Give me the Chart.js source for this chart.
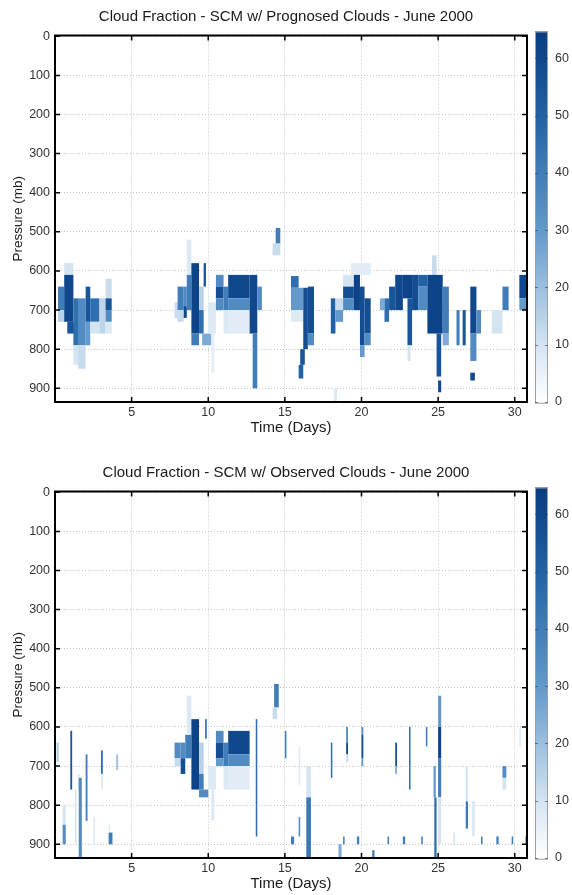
<!DOCTYPE html>
<html>
<head>
<meta charset="utf-8">
<script src="https://cdn.jsdelivr.net/npm/chart.js@4.4.1/dist/chart.umd.min.js"></script>
<style>
  html, body { margin: 0; padding: 0; background: #fff; }
  canvas { display: block; }
</style>
</head>
<body>
<canvas id="progChart" width="572" height="456"></canvas>
<canvas id="obsChart" width="572" height="439"></canvas>
<script>
// tick labels
var timeTicks = [5, 10, 15, 20, 25, 30];
var pressureTicks = [0, 100, 200, 300, 400, 500, 600, 700, 800, 900];
var colorTicks = [0, 10, 20, 30, 40, 50, 60];
var colorMax = 64.7;

// cloud fraction cells: [day from, day to, pressure top, pressure bottom, value]
var prognosedCells = [
  [0.2, 0.6, 640, 700, 40], [0.2, 0.6, 700, 730, 15],
  [0.6, 1.2, 580, 610, 10], [0.6, 1.2, 610, 730, 60], [0.8, 1.4, 730, 760, 55],
  [1.2, 1.5, 670, 790, 45], [1.2, 1.5, 790, 840, 10],
  [1.5, 2.0, 670, 790, 35], [1.5, 2.0, 790, 850, 12],
  [2.0, 2.3, 640, 730, 55], [2.0, 2.3, 730, 790, 30],
  [2.3, 2.9, 670, 730, 45], [2.3, 2.9, 730, 760, 10],
  [2.9, 3.3, 670, 760, 14],
  [3.3, 3.7, 620, 670, 12], [3.3, 3.7, 670, 700, 55], [3.3, 3.7, 700, 730, 35], [3.3, 3.7, 730, 760, 8],
  [7.8, 8.1, 680, 720, 12],
  [8.0, 8.4, 640, 700, 40], [8.0, 8.4, 700, 730, 12],
  [8.4, 8.6, 640, 690, 35], [8.4, 8.6, 690, 720, 60],
  [8.6, 8.9, 520, 610, 8], [8.6, 8.9, 610, 700, 40],
  [8.9, 9.4, 580, 760, 62], [8.9, 9.4, 760, 790, 40],
  [9.4, 9.7, 640, 700, 15], [9.4, 9.7, 700, 760, 45],
  [9.7, 9.85, 580, 640, 55],
  [9.6, 10.2, 760, 790, 25],
  [10.0, 10.5, 680, 760, 8], [10.2, 10.4, 760, 860, 6],
  [10.5, 11.0, 610, 640, 35], [10.5, 11.0, 640, 670, 58], [10.5, 11.0, 670, 700, 35],
  [11.0, 11.3, 640, 700, 40], [11.0, 11.3, 700, 760, 8],
  [11.3, 12.7, 610, 670, 60], [11.3, 12.7, 670, 700, 35], [11.3, 12.7, 700, 760, 7],
  [12.7, 13.2, 610, 760, 60], [12.9, 13.2, 760, 900, 40],
  [13.2, 13.5, 640, 700, 35],
  [14.4, 14.7, 490, 530, 40], [14.2, 14.7, 530, 560, 12],
  [15.4, 15.9, 613, 643, 45], [15.4, 16.2, 643, 700, 30], [15.4, 16.2, 700, 730, 8],
  [16.2, 16.5, 643, 800, 58], [16.0, 16.3, 800, 840, 55], [15.9, 16.2, 840, 875, 50],
  [16.5, 16.9, 640, 760, 58], [16.5, 16.9, 760, 790, 35],
  [18.0, 18.3, 670, 760, 50], [18.2, 18.4, 900, 935, 8],
  [18.3, 18.8, 670, 700, 12], [18.3, 18.8, 700, 730, 30],
  [18.8, 19.5, 610, 640, 10], [18.8, 19.5, 640, 670, 58], [18.8, 19.5, 670, 700, 35],
  [19.3, 20.6, 580, 610, 7],
  [19.5, 19.9, 610, 700, 62],
  [19.9, 20.2, 640, 790, 58], [19.9, 20.2, 790, 820, 30],
  [20.2, 20.6, 670, 760, 58], [20.2, 20.6, 760, 790, 35],
  [21.2, 21.5, 670, 700, 25], [21.5, 21.8, 670, 730, 45],
  [21.8, 22.2, 640, 700, 55], [22.2, 22.7, 610, 700, 60],
  [22.7, 23.3, 610, 670, 62], [23.0, 23.3, 670, 790, 55], [23.0, 23.2, 790, 830, 10],
  [23.3, 23.7, 610, 700, 58],
  [23.7, 24.3, 610, 640, 50], [23.7, 24.3, 640, 700, 35],
  [24.6, 24.9, 560, 610, 12],
  [24.3, 25.3, 610, 760, 62], [24.9, 25.2, 760, 870, 55], [25.0, 25.2, 880, 910, 60],
  [25.3, 25.7, 640, 760, 40], [25.3, 25.7, 760, 790, 25],
  [26.2, 26.4, 700, 790, 40], [26.6, 26.8, 700, 790, 55],
  [27.1, 27.5, 640, 760, 60], [27.1, 27.5, 760, 830, 35], [27.1, 27.4, 860, 880, 60],
  [27.5, 27.8, 700, 760, 35],
  [28.5, 29.2, 700, 760, 10], [29.2, 29.6, 640, 700, 40],
  [30.3, 30.8, 610, 670, 60], [30.3, 30.8, 670, 700, 30]
];

var observedCells = [
  [0.1, 0.25, 640, 690, 15],
  [0.5, 0.7, 800, 850, 10], [0.5, 0.7, 850, 900, 35],
  [1.0, 1.12, 610, 760, 55],
  [1.3, 1.4, 760, 900, 10],
  [1.5, 1.6, 720, 760, 10], [1.55, 1.75, 730, 935, 35],
  [2.0, 2.12, 670, 840, 40],
  [2.5, 2.6, 830, 900, 8],
  [3.0, 3.12, 660, 720, 45], [3.0, 3.12, 720, 760, 8],
  [3.5, 3.6, 850, 870, 8], [3.5, 3.75, 870, 900, 40],
  [4.0, 4.12, 670, 710, 20],
  [7.8, 8.2, 640, 680, 35], [7.8, 8.2, 680, 700, 12],
  [8.2, 8.5, 640, 680, 35], [8.2, 8.5, 680, 720, 58],
  [8.5, 8.9, 620, 680, 40], [8.6, 8.9, 520, 620, 8],
  [8.9, 9.4, 580, 760, 62],
  [9.4, 9.7, 640, 720, 15], [9.4, 9.7, 720, 760, 40], [9.4, 10.0, 760, 780, 35],
  [9.8, 9.9, 580, 630, 50],
  [10.0, 10.5, 700, 760, 8], [10.2, 10.4, 760, 840, 8],
  [10.5, 11.0, 610, 640, 35], [10.5, 11.0, 640, 680, 58], [10.5, 11.0, 680, 700, 30],
  [11.0, 11.3, 640, 700, 40], [11.0, 11.3, 700, 760, 8],
  [11.3, 12.7, 610, 670, 60], [11.3, 12.7, 670, 700, 35], [11.3, 12.7, 700, 760, 7],
  [13.1, 13.2, 580, 880, 45],
  [14.3, 14.6, 490, 550, 40], [14.2, 14.5, 550, 580, 12],
  [15.0, 15.1, 610, 680, 40],
  [15.4, 15.6, 880, 900, 40],
  [15.9, 16.0, 650, 750, 8], [15.9, 16.0, 830, 880, 35],
  [16.4, 16.7, 700, 780, 10], [16.4, 16.7, 780, 935, 42],
  [18.0, 18.1, 640, 730, 45],
  [18.5, 18.7, 900, 935, 25], [18.8, 18.9, 880, 900, 40],
  [19.0, 19.12, 600, 640, 35], [19.0, 19.12, 640, 670, 60], [19.0, 19.12, 670, 690, 12],
  [19.7, 19.85, 880, 900, 40],
  [20.0, 20.12, 600, 620, 35], [20.0, 20.12, 620, 680, 58], [20.0, 20.12, 680, 700, 30],
  [20.7, 20.85, 915, 935, 40],
  [21.7, 21.8, 880, 900, 40],
  [22.2, 22.32, 640, 700, 55], [22.2, 22.32, 700, 720, 25],
  [22.7, 22.85, 880, 900, 40],
  [23.1, 23.2, 600, 760, 45],
  [23.9, 24.0, 880, 900, 40],
  [24.2, 24.3, 600, 650, 40],
  [24.7, 24.85, 700, 780, 30], [24.75, 24.9, 780, 935, 45],
  [25.0, 25.2, 520, 600, 30], [25.0, 25.2, 600, 680, 62], [25.0, 25.2, 680, 780, 40], [25.0, 25.2, 780, 900, 10],
  [26.0, 26.1, 870, 900, 10],
  [26.8, 26.95, 700, 790, 10], [26.8, 26.95, 790, 860, 40],
  [27.2, 27.4, 790, 880, 8],
  [27.8, 27.9, 880, 900, 40],
  [28.8, 28.95, 880, 900, 40],
  [29.2, 29.45, 700, 730, 35], [29.2, 29.45, 730, 760, 10],
  [29.8, 29.9, 880, 900, 40],
  [30.3, 30.4, 600, 650, 8],
  [30.7, 30.8, 880, 900, 40]
];

// white -> blue colormap
var colorStops = [
  [0.0, 255, 255, 255],
  [0.15, 214, 229, 242],
  [0.45, 102, 156, 205],
  [0.75, 36, 101, 168],
  [1.0, 8, 60, 130]
];

function cloudColor(v) {
  var t = Math.max(0, Math.min(1, v / colorMax));
  for (var i = 1; i < colorStops.length; i++) {
    if (t <= colorStops[i][0]) {
      var a = colorStops[i - 1], b = colorStops[i];
      var f = (t - a[0]) / (b[0] - a[0]);
      return 'rgb(' + [1, 2, 3].map(function (k) { return Math.round(a[k] + (b[k] - a[k]) * f); }).join(',') + ')';
    }
  }
  return 'rgb(8,60,130)';
}

Chart.defaults.font.family = "'Liberation Sans', Arial, sans-serif";
Chart.defaults.color = '#2a2a2a';

function heatPlugin(cells) {
  return {
    id: 'heat',
    beforeDatasetsDraw: function (chart) {
      var ctx = chart.ctx, a = chart.chartArea, x = chart.scales.x, y = chart.scales.y;
      ctx.save();
      ctx.beginPath();
      ctx.rect(a.left, a.top, a.right - a.left, a.bottom - a.top);
      ctx.clip();
      cells.forEach(function (c) {
        var x0 = x.getPixelForValue(c[0]), x1 = x.getPixelForValue(c[1]);
        var y0 = y.getPixelForValue(c[2]), y1 = y.getPixelForValue(c[3]);
        ctx.fillStyle = cloudColor(c[4]);
        ctx.fillRect(x0, y0, x1 - x0, y1 - y0);
      });
      ctx.restore();
    },
    afterDraw: function (chart) {
      var ctx = chart.ctx, a = chart.chartArea, x = chart.scales.x, y = chart.scales.y, cb = chart.scales.cb;
      ctx.save();
      // inward ticks
      ctx.strokeStyle = '#000';
      ctx.lineWidth = 1.5;
      ctx.beginPath();
      timeTicks.forEach(function (t) {
        var px = x.getPixelForValue(t);
        ctx.moveTo(px, a.top); ctx.lineTo(px, a.top + 5);
        ctx.moveTo(px, a.bottom); ctx.lineTo(px, a.bottom - 5);
      });
      pressureTicks.forEach(function (p) {
        var py = y.getPixelForValue(p);
        ctx.moveTo(a.left, py); ctx.lineTo(a.left + 5, py);
        ctx.moveTo(a.right, py); ctx.lineTo(a.right - 5, py);
      });
      ctx.stroke();
      // box
      ctx.lineWidth = 2;
      ctx.strokeRect(a.left, a.top, a.right - a.left, a.bottom - a.top);
      // colorbar
      var bx = a.right + 8, bw = 13;
      var top = cb.getPixelForValue(colorMax), bot = cb.getPixelForValue(-0.3);
      var g = ctx.createLinearGradient(0, cb.getPixelForValue(0), 0, top);
      colorStops.forEach(function (s) { g.addColorStop(s[0], 'rgb(' + s[1] + ',' + s[2] + ',' + s[3] + ')'); });
      ctx.fillStyle = g;
      ctx.fillRect(bx, top, bw, bot - top);
      ctx.strokeStyle = '#a0a0a0';
      ctx.lineWidth = 1;
      ctx.strokeRect(bx + 0.5, top + 0.5, bw - 1, bot - top - 1);
      ctx.strokeStyle = 'rgba(40,60,90,0.6)';
      ctx.beginPath();
      colorTicks.forEach(function (v) {
        var py = Math.round(cb.getPixelForValue(v)) + 0.5;
        ctx.moveTo(bx, py); ctx.lineTo(bx + 3, py);
        ctx.moveTo(bx + bw - 3, py); ctx.lineTo(bx + bw, py);
      });
      ctx.stroke();
      ctx.restore();
    }
  };
}

function makeChart(id, title, cells, xTitlePad, xAxisHeight) {
  return new Chart(document.getElementById(id), {
    type: 'scatter',
    data: { datasets: [{ data: [], pointRadius: 0 }] },
    options: {
      responsive: false,
      animation: false,
      events: [],
      layout: { padding: 0 },
      plugins: {
        legend: { display: false },
        tooltip: { enabled: false },
        title: {
          display: true,
          text: title,
          font: { size: 15, weight: 'normal' },
          color: '#1a1a1a',
          padding: { top: 6, bottom: 10 }
        }
      },
      scales: {
        x: {
          type: 'linear',
          min: 0,
          max: 30.8,
          afterBuildTicks: function (s) { s.ticks = timeTicks.map(function (v) { return { value: v }; }); },
          afterFit: function (s) { s.height = xAxisHeight; },
          ticks: { font: { size: 12.5 }, color: '#333', padding: 3, maxRotation: 0 },
          grid: { color: '#c4c4c4', lineWidth: 1, drawTicks: false },
          border: { display: false, dash: [1, 2] },
          title: { display: true, text: 'Time (Days)', font: { size: 15 }, color: '#1a1a1a', padding: { top: 0, bottom: xTitlePad } }
        },
        y: {
          type: 'linear',
          reverse: true,
          min: -2,
          max: 935,
          afterBuildTicks: function (s) { s.ticks = pressureTicks.map(function (v) { return { value: v }; }); },
          afterFit: function (s) { s.width = 55; },
          ticks: { font: { size: 12.5 }, color: '#333', padding: 5 },
          grid: { color: '#c4c4c4', lineWidth: 1, drawTicks: false },
          border: { display: false, dash: [1, 2] },
          title: { display: true, text: 'Pressure (mb)', font: { size: 13.5 }, color: '#1a1a1a', padding: { top: 10, bottom: 0 } }
        },
        cb: {
          type: 'linear',
          position: 'right',
          min: 0,
          max: 64,
          afterBuildTicks: function (s) { s.ticks = colorTicks.map(function (v) { return { value: v }; }); },
          afterFit: function (s) { s.width = 45; },
          ticks: { font: { size: 12.5 }, color: '#333', padding: 28 },
          grid: { display: false, drawTicks: false },
          border: { display: false }
        }
      }
    },
    plugins: [heatPlugin(cells)]
  });
}

makeChart('progChart', 'Cloud Fraction - SCM w/ Prognosed Clouds - June 2000', prognosedCells, 19, 54);
makeChart('obsChart', 'Cloud Fraction - SCM w/ Observed Clouds - June 2000', observedCells, 2, 37);
</script>
</body>
</html>
